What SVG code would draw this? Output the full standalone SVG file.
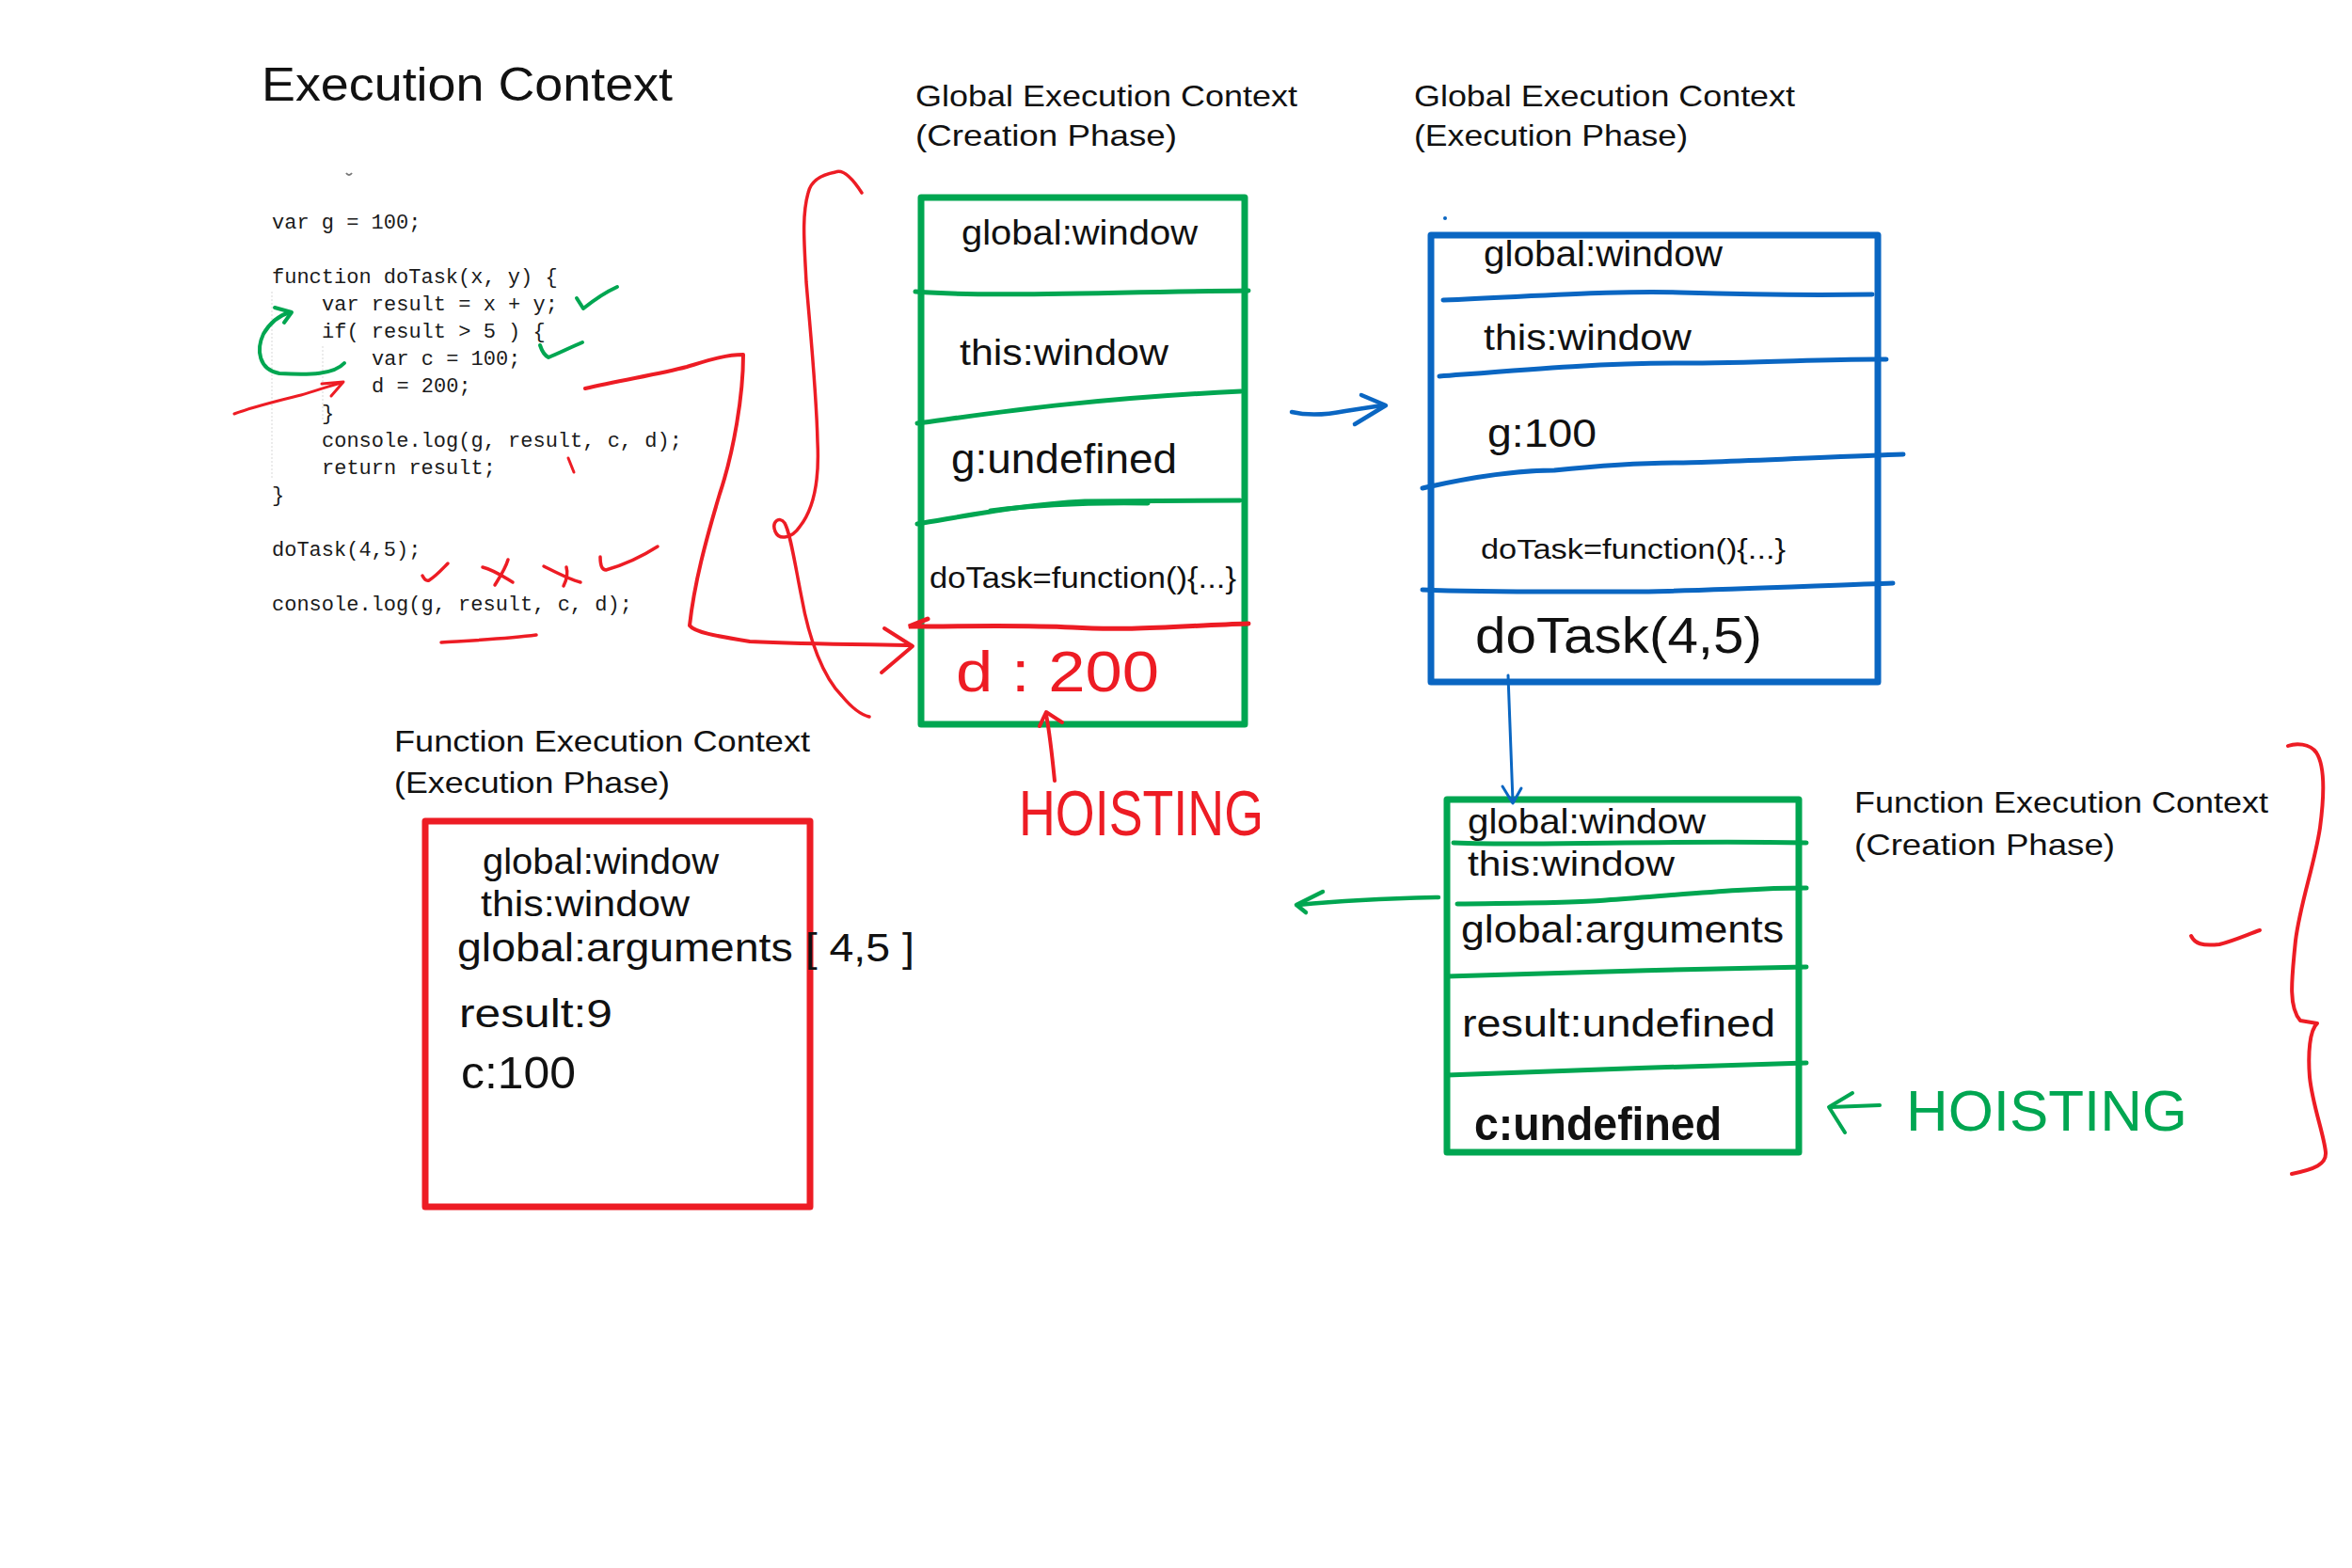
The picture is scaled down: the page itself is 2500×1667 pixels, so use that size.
<svg xmlns="http://www.w3.org/2000/svg" width="2500" height="1667" viewBox="0 0 2500 1667">
<style>
.t{font-family:"Liberation Sans",Arial,sans-serif;fill:#111}
.code{font-family:"Liberation Mono","Courier New",monospace;font-size:22px;fill:#1a1a1a}
.ink{fill:none;stroke-linecap:round;stroke-linejoin:round}
.r{stroke:#ED1C24}
.g{stroke:#00A651}
.b{stroke:#0A66C2}
.box{fill:none;stroke-width:7;stroke-linejoin:round}
.div{fill:none;stroke-width:5;stroke-linecap:round}
.guide{stroke:#d8d8d8;stroke-width:1;stroke-dasharray:2 2}
</style>
<rect x="0" y="0" width="2500" height="1667" fill="#ffffff"/>

<g id="title">
<text class="t" x="278" y="107" font-size="50" textLength="437" lengthAdjust="spacingAndGlyphs">Execution Context</text>
</g>

<g id="code">
<path d="M368,184 Q371,188 374,184" fill="none" stroke="#777" stroke-width="2"/>
<line class="guide" x1="289" y1="310" x2="289" y2="510"/>
<line class="guide" x1="343" y1="368" x2="343" y2="447"/>
<text class="code" x="289" y="243">var g = 100;</text>
<text class="code" x="289" y="301">function doTask(x, y) {</text>
<text class="code" x="342" y="330">var result = x + y;</text>
<text class="code" x="342" y="359">if( result &gt; 5 ) {</text>
<text class="code" x="395" y="388">var c = 100;</text>
<text class="code" x="395" y="417">d = 200;</text>
<text class="code" x="342" y="446">}</text>
<text class="code" x="342" y="475">console.log(g, result, c, d);</text>
<text class="code" x="342" y="504">return result;</text>
<text class="code" x="289" y="533">}</text>
<text class="code" x="289" y="591">doTask(4,5);</text>
<text class="code" x="289" y="649">console.log(g, result, c, d);</text>
</g>

<g id="gec-creation">
<text class="t" x="973" y="113" font-size="32" textLength="406" lengthAdjust="spacingAndGlyphs">Global Execution Context</text>
<text class="t" x="973" y="155" font-size="32" textLength="278" lengthAdjust="spacingAndGlyphs">(Creation Phase)</text>
<rect class="box g" x="979" y="210" width="344" height="560"/>
<path class="div g" d="M973,310 C1050,316 1150,311 1327,309"/>
<path class="div g" d="M975,450 C1050,440 1150,424 1319,416"/>
<path class="div g" d="M975,557 C1030,548 1090,536 1153,533 L1318,532"/>
<path class="div g" stroke-width="7" d="M1053,543 C1100,537 1160,534 1220,535"/>
<path class="div r" d="M986,658 L966,666 C1030,666 1080,664 1140,667 C1200,671 1260,665 1327,663"/>
<text class="t" x="1022" y="260" font-size="36" textLength="251" lengthAdjust="spacingAndGlyphs">global:window</text>
<text class="t" x="1020" y="388" font-size="38" textLength="222" lengthAdjust="spacingAndGlyphs">this:window</text>
<text class="t" x="1011" y="503" font-size="44" textLength="240" lengthAdjust="spacingAndGlyphs">g:undefined</text>
<text class="t" x="988" y="625" font-size="32" textLength="326" lengthAdjust="spacingAndGlyphs">doTask=function(){...}</text>
<text class="t" x="1016" y="735" font-size="62" fill="#ED1C24" style="fill:#ED1C24" textLength="216" lengthAdjust="spacingAndGlyphs">d : 200</text>
</g>

<g id="gec-execution">
<text class="t" x="1503" y="113" font-size="32" textLength="405" lengthAdjust="spacingAndGlyphs">Global Execution Context</text>
<text class="t" x="1503" y="155" font-size="32" textLength="291" lengthAdjust="spacingAndGlyphs">(Execution Phase)</text>
<circle cx="1536" cy="232" r="2" fill="#0A66C2"/>
<rect class="box b" x="1521" y="250" width="475" height="475"/>
<path class="div b" d="M1534,319 C1650,314 1720,309 1786,311 S1930,314 1990,313"/>
<path class="div b" d="M1530,400 C1620,393 1700,386 1786,386 S1950,381 2005,382"/>
<path class="div b" d="M1512,519 C1560,508 1610,500 1652,500 C1700,495 1750,492 1786,492 S1960,485 2023,483"/>
<path class="div b" d="M1512,627 C1600,630 1700,629 1742,629 S1950,622 2012,620"/>
<text class="t" x="1577" y="283" font-size="38" textLength="254" lengthAdjust="spacingAndGlyphs">global:window</text>
<text class="t" x="1577" y="372" font-size="38" textLength="221" lengthAdjust="spacingAndGlyphs">this:window</text>
<text class="t" x="1581" y="475" font-size="42" textLength="116" lengthAdjust="spacingAndGlyphs">g:100</text>
<text class="t" x="1574" y="594" font-size="30" textLength="324" lengthAdjust="spacingAndGlyphs">doTask=function(){...}</text>
<text class="t" x="1568" y="694" font-size="54" textLength="305" lengthAdjust="spacingAndGlyphs">doTask(4,5)</text>
</g>

<g id="fec-creation">
<text class="t" x="1971" y="864" font-size="32" textLength="440" lengthAdjust="spacingAndGlyphs">Function Execution Context</text>
<text class="t" x="1971" y="909" font-size="32" textLength="277" lengthAdjust="spacingAndGlyphs">(Creation Phase)</text>
<rect class="box g" x="1538" y="850" width="374" height="375"/>
<path class="div g" d="M1545,896 C1650,900 1750,893 1920,896"/>
<path class="div g" d="M1549,961 C1620,960 1680,960 1707,957 C1800,950 1860,944 1920,944"/>
<path class="div g" d="M1538,1038 C1650,1034 1800,1030 1920,1028"/>
<path class="div g" d="M1538,1143 C1650,1139 1800,1133 1920,1130"/>
<text class="t" x="1560" y="886" font-size="36" textLength="253" lengthAdjust="spacingAndGlyphs">global:window</text>
<text class="t" x="1560" y="931" font-size="36" textLength="220" lengthAdjust="spacingAndGlyphs">this:window</text>
<text class="t" x="1553" y="1002" font-size="40" textLength="343" lengthAdjust="spacingAndGlyphs">global:arguments</text>
<text class="t" x="1554" y="1102" font-size="40" textLength="333" lengthAdjust="spacingAndGlyphs">result:undefined</text>
<text class="t" x="1567" y="1212" font-size="50" font-weight="bold" textLength="263" lengthAdjust="spacingAndGlyphs">c:undefined</text>
</g>

<g id="fec-execution">
<text class="t" x="419" y="799" font-size="32" textLength="442" lengthAdjust="spacingAndGlyphs">Function Execution Context</text>
<text class="t" x="419" y="843" font-size="32" textLength="293" lengthAdjust="spacingAndGlyphs">(Execution Phase)</text>
<rect class="box r" x="452" y="873" width="409" height="410"/>
<text class="t" x="513" y="929" font-size="38" textLength="251" lengthAdjust="spacingAndGlyphs">global:window</text>
<text class="t" x="511" y="974" font-size="38" textLength="222" lengthAdjust="spacingAndGlyphs">this:window</text>
<text class="t" x="486" y="1022" font-size="42" textLength="486" lengthAdjust="spacingAndGlyphs">global:arguments [ 4,5 ]</text>
<text class="t" x="488" y="1092" font-size="42" textLength="163" lengthAdjust="spacingAndGlyphs">result:9</text>
<text class="t" x="490" y="1157" font-size="48" textLength="122" lengthAdjust="spacingAndGlyphs">c:100</text>
</g>

<g id="hoisting-labels">
<text class="t" x="1083" y="888" font-size="68" style="fill:#ED1C24" textLength="260" lengthAdjust="spacingAndGlyphs">HOISTING</text>
<text class="t" x="2026" y="1202" font-size="62" style="fill:#00A651" textLength="299" lengthAdjust="spacingAndGlyphs">HOISTING</text>
</g>

<g id="annotations">
<path class="ink g" stroke-width="4" d="M613,317 L620,328 C630,320 645,310 656,305"/>
<path class="ink g" stroke-width="4" d="M574,367 C576,373 579,378 583,380 C595,375 607,369 619,364"/>
<path class="ink r" stroke-width="3.5" d="M449,612 C451,616 453,618 456,617 C464,612 470,605 476,599"/>
<path class="ink r" stroke-width="3.5" d="M513,603 C525,606 535,613 545,619 M540,595 C537,605 531,614 526,622"/>
<path class="ink r" stroke-width="3.5" d="M578,602 C590,608 605,616 617,619 M602,603 C604,610 602,617 599,623"/>
<path class="ink r" stroke-width="3.5" d="M638,592 C638,600 640,606 644,606 C665,600 685,590 699,581"/>
<path class="ink r" stroke-width="3.5" d="M469,683 C500,681 540,679 570,675"/>
<path class="ink r" stroke-width="3" d="M604,487 L610,502"/>
<path class="ink r" stroke-width="3.5" d="M916,205 C905,188 895,180 888,183 C872,186 862,192 859,205 C852,230 855,260 857,300 C862,360 868,420 869,470 C871,510 866,540 850,560 C842,572 828,575 824,565 C820,555 828,548 834,556 C840,566 845,600 852,635 C860,680 875,720 895,740 C905,752 915,760 924,762"/>
<path class="ink r" stroke-width="4" d="M2432,793 C2440,790 2455,790 2462,800 C2472,815 2470,850 2466,880 C2460,920 2445,960 2440,1000 C2436,1040 2432,1070 2445,1085 L2463,1088 C2455,1095 2453,1120 2455,1145 C2458,1175 2470,1205 2472,1225 C2473,1238 2460,1243 2436,1248"/>
<path class="ink r" stroke-width="4" d="M2329,995 C2333,1003 2340,1006 2359,1004 C2375,1000 2390,993 2402,989"/>
</g>

<g id="connectors">
<path class="ink g" stroke-width="4" d="M366,386 C355,398 330,399 297,397 C275,393 272,372 280,355 C287,343 298,335 308,332"/>
<path class="ink g" stroke-width="4" d="M292,327 L310,332 L302,343"/>
<path class="ink r" stroke-width="3" d="M249,440 C270,432 300,425 320,420 C335,416 350,410 363,407"/>
<path class="ink r" stroke-width="3" d="M342,408 L365,406 L352,421"/>
<path class="ink r" stroke-width="4" d="M622,413 C660,404 700,398 730,390 C750,384 770,377 790,377 C790,420 780,480 765,525 C750,575 738,620 733,665 C738,672 760,676 797,682 C860,685 920,685 968,686"/>
<path class="ink r" stroke-width="4" d="M940,668 L970,687 L937,715"/>
<path class="ink r" stroke-width="4" d="M1121,830 C1118,800 1115,775 1112,760"/>
<path class="ink r" stroke-width="4" d="M1105,772 L1112,757 L1129,768"/>
<path class="ink b" stroke-width="4.5" d="M1373,438 C1390,442 1410,441 1430,437 L1469,431"/>
<path class="ink b" stroke-width="4.5" d="M1447,420 L1473,431 L1440,451"/>
<path class="ink b" stroke-width="3" d="M1603,718 L1608,852"/>
<path class="ink b" stroke-width="3" d="M1597,836 L1608,854 L1617,838"/>
<path class="ink g" stroke-width="4.5" d="M1529,954 C1480,955 1420,958 1380,962"/>
<path class="ink g" stroke-width="4.5" d="M1406,948 L1378,962 L1388,970"/>
<path class="ink g" stroke-width="4" d="M1998,1175 L1946,1177"/>
<path class="ink g" stroke-width="4" d="M1969,1162 L1944,1177 L1961,1204"/>
</g>
</svg>
